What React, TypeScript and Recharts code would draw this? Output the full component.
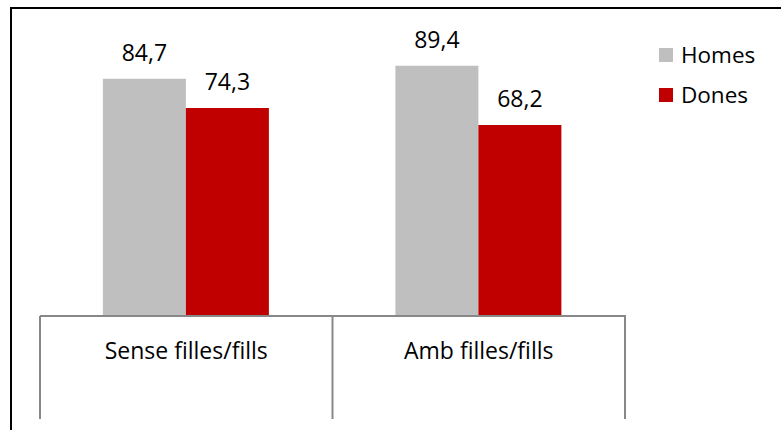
import React from 'react';
import { BarChart, Bar, XAxis, YAxis, LabelList } from 'recharts';

const categories = ['Sense filles/fills', 'Amb filles/fills'];
const homes = [84.7, 89.4];
const dones = [74.3, 68.2];
const seriesNames = ['Homes', 'Dones'];
const colors = ['#BFBFBF', '#C00000'];

const data = categories.map((c, i) => ({ name: c, homes: homes[i], dones: dones[i] }));

const W = 781;
const H = 430;
const margin = { top: 36, right: 156, bottom: 11, left: 40 };
const band = (W - margin.left - margin.right) / categories.length;
const FONT = '"Open Sans", sans-serif';

const fmt = (v: any) => String(v).replace('.', ',');

const CatTick = (props: any) => {
  const { x, y, payload, index } = props;
  const left = x - band / 2;
  const right = x + band / 2;
  return (
    <g>
      <line x1={left} y1={y} x2={left} y2={y + 103} stroke="#888" strokeWidth={2} />
      {index === categories.length - 1 && (
        <line x1={right} y1={y - 1} x2={right} y2={y + 103} stroke="#888" strokeWidth={2} />
      )}
      <text x={x} y={y + 43} textAnchor="middle" fontFamily={FONT} fontSize={23} fill="#000">
        {payload.value}
      </text>
    </g>
  );
};

const LegendBox = () => (
  <div style={{ position: 'absolute', left: 659, top: 35, fontFamily: FONT, fontSize: 22.5, color: '#000' }}>
    {seriesNames.map((n, i) => (
      <div key={n} style={{ display: 'flex', alignItems: 'center', height: 40 }}>
        <span style={{ display: 'inline-block', width: 14, height: 14, background: colors[i], marginRight: 8 }} />
        <span style={{ lineHeight: '22px' }}>{n}</span>
      </div>
    ))}
  </div>
);

export default function App() {
  return (
    <div style={{ position: 'absolute', left: 0, top: 0, width: W, height: H, overflow: 'hidden', background: '#fff' }}>
      <div
        style={{
          position: 'absolute',
          left: 10,
          top: 7,
          width: 900,
          height: 600,
          borderLeft: '2px solid #000',
          borderTop: '2px solid #000',
        }}
      />
      <div style={{ position: 'absolute', left: 0, top: 0 }}>
        <BarChart width={W} height={H} data={data} margin={margin} barCategoryGap="21.5%" barGap={0}>
          <XAxis
            dataKey="name"
            height={103}
            tickSize={0}
            tickMargin={0}
            tickLine={false}
            axisLine={{ stroke: '#888', strokeWidth: 2 }}
            tick={<CatTick />}
            interval={0}
          />
          <YAxis hide domain={[0, 100]} />
          <Bar dataKey="homes" name={seriesNames[0]} fill={colors[0]} isAnimationActive={false}>
            <LabelList dataKey="homes" position="top" offset={18} formatter={fmt} fill="#000" fontSize={23} fontFamily={FONT} />
          </Bar>
          <Bar dataKey="dones" name={seriesNames[1]} fill={colors[1]} isAnimationActive={false}>
            <LabelList dataKey="dones" position="top" offset={18} formatter={fmt} fill="#000" fontSize={23} fontFamily={FONT} />
          </Bar>
        </BarChart>
      </div>
      <LegendBox />
    </div>
  );
}
